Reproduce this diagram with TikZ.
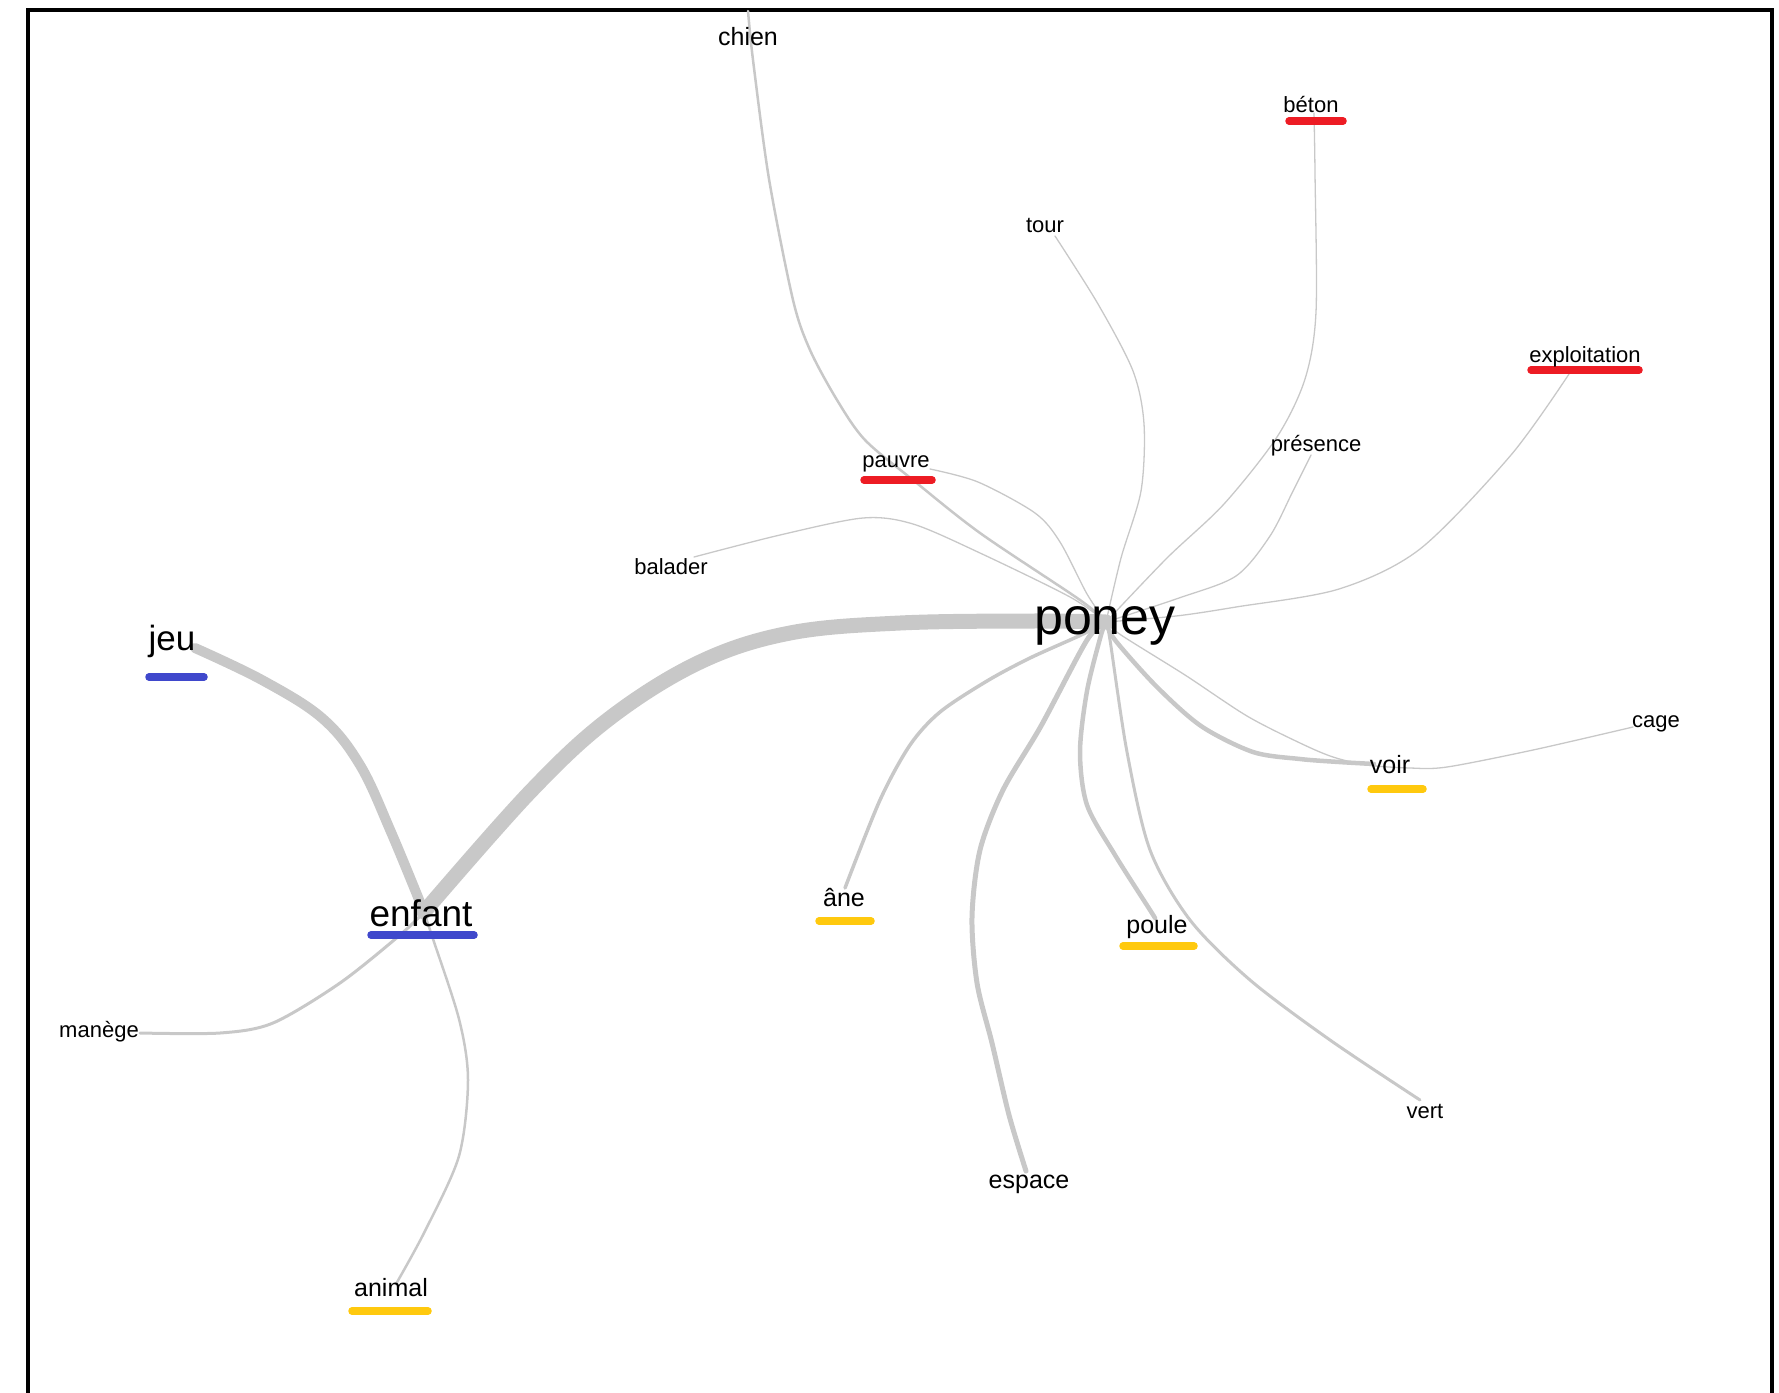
\documentclass[tikz,border=0pt]{standalone}
\usepackage{fontspec}
\setmainfont{Liberation Sans}
\definecolor{wire}{RGB}{200,200,200}
\definecolor{mred}{RGB}{237,28,36}
\definecolor{mblue}{RGB}{63,72,204}
\definecolor{mgold}{RGB}{255,201,14}
\tikzset{
    x=1pt, y=-1pt,
    word/.style={inner sep=0pt, anchor=base, font=\fontsize{#1}{#1}\selectfont},
    link/.style={draw=wire, line width=#1, line cap=round, line join=round},
    tag/.style={draw=#1, line width=7.5pt, line cap=round}
}

\begin{document}
\begin{tikzpicture}
    % tikz code goes here
    \useasboundingbox (0,0) rectangle (1779,1392);
    \draw[line width=4pt] (27.5,1400) |- (1771.5,9.5) -- (1771.5,1400);

    \coordinate (v-poney) at (1106,622);
    \coordinate (v-enfant) at (424,912);
    \coordinate (v-chien) at (748,11);
    \coordinate (v-beton) at (1314,113);
    \coordinate (v-tour) at (1055,236);
    \coordinate (v-exploit) at (1569,374);
    \coordinate (v-presence) at (1311,455);
    \coordinate (v-pauvre) at (930,469);
    \coordinate (v-balader) at (694,557);
    \coordinate (v-jeu) at (195,648);
    \coordinate (v-manege) at (140,1033);
    \coordinate (v-animal) at (396,1284);
    \coordinate (v-ane) at (845,888);
    \coordinate (v-poule) at (1155,918);
    \coordinate (v-espace) at (1026,1171);
    \coordinate (v-vert) at (1420,1100);
    \coordinate (v-voir) at (1374,764);
    \coordinate (v-cage) at (1633,727);

    \draw[link=15pt] plot[smooth, tension=0.6] coordinates {(v-poney) (1032,621) (900,623) (790,633) (700,662) (610,718) (530,792) (v-enfant)};
    \draw[link=10pt] plot[smooth, tension=0.6] coordinates {(v-jeu) (262,680) (322,718) (360,765) (391,832) (v-enfant)};
    \draw[link=3pt] plot[smooth] coordinates {(v-enfant) (400,935) (340,983) (273,1023) (220,1033) (v-manege)};
    \draw[link=2.5pt] plot[smooth] coordinates {(v-enfant) (431,933) (459,1019) (468,1080) (459,1156) (425,1231) (v-animal)};

    \draw[link=2.5pt] plot[smooth] coordinates {(v-chien) (753,60) (769,179) (793,300) (810,350) (837,400) (865,440) (913,480) (980,533) (1080,600) (v-poney)};
    \draw[link=1.3pt] plot[smooth] coordinates {(v-pauvre) (978,482) (1035,513) (1060,542) (1087,594) (v-poney)};
    \draw[link=1.3pt] plot[smooth] coordinates {(v-balader) (780,535) (863,518) (913,524) (980,553) (1070,597) (v-poney)};
    \draw[link=1.3pt] plot[smooth] coordinates {(v-tour) (1098,304) (1133,371) (1144,424) (1141,491) (1121,558) (v-poney)};
    \draw[link=1.3pt] plot[smooth] coordinates {(v-beton) (1315,173) (1316,312) (1305,379) (1277,437) (1224,504) (1167,558) (v-poney)};
    \draw[link=1.3pt] plot[smooth] coordinates {(v-presence) (1293,491) (1270,536) (1236,576) (1179,598) (v-poney)};
    \draw[link=1.3pt] plot[smooth] coordinates {(v-exploit) (1511,455) (1420,549) (1339,589) (1236,607) (1176,616) (v-poney)};
    \draw[link=4.5pt] plot[smooth] coordinates {(v-poney) (1115,640) (1156,686) (1201,726) (1253,752) (1300,759) (1339,762) (v-voir)};
    \draw[link=1.3pt] plot[smooth] coordinates {(v-poney) (1121,635) (1185,675) (1247,716) (1300,743) (1333,757) (1367,765) (1410,768) (1447,767) (1533,750) (v-cage)};
    \draw[link=3.5pt] plot[smooth] coordinates {(v-poney) (1081,635) (1030,658) (987,681) (940,712) (910,745) (880,800) (v-ane)};
    \draw[link=5pt] plot[smooth] coordinates {(v-poney) (1087,640) (1041,726) (1003,790) (980,850) (972,917) (977,983) (992,1043) (1009,1115) (v-espace)};
    \draw[link=4.5pt] plot[smooth] coordinates {(v-poney) (1101,635) (1087,691) (1080,752) (1087,805) (1115,855) (1150,910) (v-poule)};
    \draw[link=3pt] plot[smooth] coordinates {(v-poney) (1110,640) (1127,752) (1150,850) (1190,920) (1250,980) (1330,1040) (v-vert)};

    \foreach \a/\b/\y/\c in {1285/1347/121/mred, 1527/1643/370/mred, 860/936/480/mred,
        145/208/677/mblue, 367/478/935/mblue,
        348/432/1311/mgold, 815/875/921/mgold, 1119/1198/946/mgold, 1367/1427/789/mgold}
        \draw[tag=\c] (\a+4,\y) -- (\b-4,\y);

    \node[word=52] (poney) at (1105,634) {poney};
    \node[word=37] (enfant) at (421,926) {enfant};
    \node[word=35] (jeu) at (172,650) {jeu};
    \node[word=25] (chien) at (748,45) {chien};
    \node[word=25] (animal) at (391,1296) {animal};
    \node[word=25] (ane) at (844,906) {âne};
    \node[word=25] (poule) at (1157,933) {poule};
    \node[word=25] (espace) at (1029,1188) {espace};
    \node[word=25] (voir) at (1390,773) {voir};
    \node[word=22] (beton) at (1311,112) {béton};
    \node[word=22] (tour) at (1045,232) {tour};
    \node[word=22] (exploitation) at (1585,362) {exploitation};
    \node[word=22] (presence) at (1316,451) {présence};
    \node[word=22] (pauvre) at (896,467) {pauvre};
    \node[word=22] (balader) at (671,574) {balader};
    \node[word=22] (manege) at (99,1037) {manège};
    \node[word=22] (vert) at (1425,1118) {vert};
    \node[word=22] (cage) at (1656,727) {cage};
\end{tikzpicture}
\end{document}
